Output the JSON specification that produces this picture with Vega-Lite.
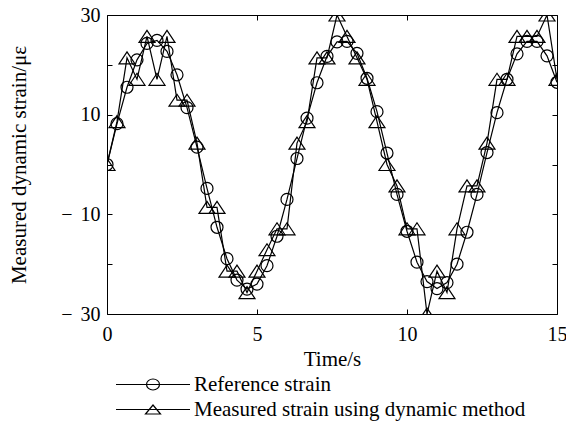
{
  "$schema": "https://vega.github.io/schema/vega-lite/v6.json",
  "width": 450,
  "height": 299,
  "autosize": {"type": "none"},
  "padding": {"left": 107, "top": 15, "right": 9, "bottom": 107},
  "background": "white",
  "config": {
    "font": "Liberation Serif",
    "view": {"stroke": null},
    "axis": {"grid": false, "domainColor": "black", "tickColor": "black", "labelColor": "black", "titleColor": "black", "titleFontWeight": "normal", "labelFlush": false, "labelOverlap": false, "domainWidth": 1, "tickWidth": 1}
  },
  "data": {
    "values": [
      {"t": 0, "v": 0, "s": "Reference strain"},
      {"t": 0.333, "v": 8.2, "s": "Reference strain"},
      {"t": 0.667, "v": 15.5, "s": "Reference strain"},
      {"t": 1.0, "v": 21.0, "s": "Reference strain"},
      {"t": 1.333, "v": 24.3, "s": "Reference strain"},
      {"t": 1.667, "v": 24.9, "s": "Reference strain"},
      {"t": 2.0, "v": 22.7, "s": "Reference strain"},
      {"t": 2.333, "v": 18.0, "s": "Reference strain"},
      {"t": 2.667, "v": 11.4, "s": "Reference strain"},
      {"t": 3.0, "v": 3.5, "s": "Reference strain"},
      {"t": 3.333, "v": -4.8, "s": "Reference strain"},
      {"t": 3.667, "v": -12.6, "s": "Reference strain"},
      {"t": 4.0, "v": -18.9, "s": "Reference strain"},
      {"t": 4.333, "v": -23.2, "s": "Reference strain"},
      {"t": 4.667, "v": -25.0, "s": "Reference strain"},
      {"t": 5.0, "v": -24.0, "s": "Reference strain"},
      {"t": 5.333, "v": -20.3, "s": "Reference strain"},
      {"t": 5.667, "v": -14.4, "s": "Reference strain"},
      {"t": 6.0, "v": -7.0, "s": "Reference strain"},
      {"t": 6.333, "v": 1.2, "s": "Reference strain"},
      {"t": 6.667, "v": 9.3, "s": "Reference strain"},
      {"t": 7.0, "v": 16.4, "s": "Reference strain"},
      {"t": 7.333, "v": 21.7, "s": "Reference strain"},
      {"t": 7.667, "v": 24.6, "s": "Reference strain"},
      {"t": 8.0, "v": 24.7, "s": "Reference strain"},
      {"t": 8.333, "v": 22.3, "s": "Reference strain"},
      {"t": 8.667, "v": 17.3, "s": "Reference strain"},
      {"t": 9.0, "v": 10.6, "s": "Reference strain"},
      {"t": 9.333, "v": 2.3, "s": "Reference strain"},
      {"t": 9.667, "v": -6.0, "s": "Reference strain"},
      {"t": 10.0, "v": -13.4, "s": "Reference strain"},
      {"t": 10.333, "v": -19.6, "s": "Reference strain"},
      {"t": 10.667, "v": -23.5, "s": "Reference strain"},
      {"t": 11.0, "v": -24.9, "s": "Reference strain"},
      {"t": 11.333, "v": -23.7, "s": "Reference strain"},
      {"t": 11.667, "v": -20.0, "s": "Reference strain"},
      {"t": 12.0, "v": -13.6, "s": "Reference strain"},
      {"t": 12.333, "v": -6.0, "s": "Reference strain"},
      {"t": 12.667, "v": 2.4, "s": "Reference strain"},
      {"t": 13.0, "v": 10.4, "s": "Reference strain"},
      {"t": 13.333, "v": 17.1, "s": "Reference strain"},
      {"t": 13.667, "v": 22.2, "s": "Reference strain"},
      {"t": 14.0, "v": 24.7, "s": "Reference strain"},
      {"t": 14.333, "v": 24.7, "s": "Reference strain"},
      {"t": 14.667, "v": 21.8, "s": "Reference strain"},
      {"t": 15.0, "v": 16.5, "s": "Reference strain"},
      {"t": 0, "v": 0, "s": "Measured strain using dynamic method"},
      {"t": 0.333, "v": 8.6, "s": "Measured strain using dynamic method"},
      {"t": 0.667, "v": 21.4, "s": "Measured strain using dynamic method"},
      {"t": 1.0, "v": 17.1, "s": "Measured strain using dynamic method"},
      {"t": 1.333, "v": 25.7, "s": "Measured strain using dynamic method"},
      {"t": 1.667, "v": 17.1, "s": "Measured strain using dynamic method"},
      {"t": 2.0, "v": 25.7, "s": "Measured strain using dynamic method"},
      {"t": 2.333, "v": 12.9, "s": "Measured strain using dynamic method"},
      {"t": 2.667, "v": 12.9, "s": "Measured strain using dynamic method"},
      {"t": 3.0, "v": 4.3, "s": "Measured strain using dynamic method"},
      {"t": 3.333, "v": -8.6, "s": "Measured strain using dynamic method"},
      {"t": 3.667, "v": -8.6, "s": "Measured strain using dynamic method"},
      {"t": 4.0, "v": -21.4, "s": "Measured strain using dynamic method"},
      {"t": 4.333, "v": -21.4, "s": "Measured strain using dynamic method"},
      {"t": 4.667, "v": -25.7, "s": "Measured strain using dynamic method"},
      {"t": 5.0, "v": -21.4, "s": "Measured strain using dynamic method"},
      {"t": 5.333, "v": -17.1, "s": "Measured strain using dynamic method"},
      {"t": 5.667, "v": -12.9, "s": "Measured strain using dynamic method"},
      {"t": 6.0, "v": -12.9, "s": "Measured strain using dynamic method"},
      {"t": 6.333, "v": 4.3, "s": "Measured strain using dynamic method"},
      {"t": 6.667, "v": 8.6, "s": "Measured strain using dynamic method"},
      {"t": 7.0, "v": 21.4, "s": "Measured strain using dynamic method"},
      {"t": 7.333, "v": 21.4, "s": "Measured strain using dynamic method"},
      {"t": 7.667, "v": 30.0, "s": "Measured strain using dynamic method"},
      {"t": 8.0, "v": 25.7, "s": "Measured strain using dynamic method"},
      {"t": 8.333, "v": 21.4, "s": "Measured strain using dynamic method"},
      {"t": 8.667, "v": 17.1, "s": "Measured strain using dynamic method"},
      {"t": 9.0, "v": 8.6, "s": "Measured strain using dynamic method"},
      {"t": 9.333, "v": 0, "s": "Measured strain using dynamic method"},
      {"t": 9.667, "v": -4.3, "s": "Measured strain using dynamic method"},
      {"t": 10.0, "v": -12.9, "s": "Measured strain using dynamic method"},
      {"t": 10.333, "v": -12.9, "s": "Measured strain using dynamic method"},
      {"t": 10.667, "v": -30.0, "s": "Measured strain using dynamic method"},
      {"t": 11.0, "v": -21.4, "s": "Measured strain using dynamic method"},
      {"t": 11.333, "v": -25.7, "s": "Measured strain using dynamic method"},
      {"t": 11.667, "v": -12.9, "s": "Measured strain using dynamic method"},
      {"t": 12.0, "v": -4.3, "s": "Measured strain using dynamic method"},
      {"t": 12.333, "v": -4.3, "s": "Measured strain using dynamic method"},
      {"t": 12.667, "v": 4.3, "s": "Measured strain using dynamic method"},
      {"t": 13.0, "v": 17.1, "s": "Measured strain using dynamic method"},
      {"t": 13.333, "v": 17.1, "s": "Measured strain using dynamic method"},
      {"t": 13.667, "v": 25.7, "s": "Measured strain using dynamic method"},
      {"t": 14.0, "v": 25.7, "s": "Measured strain using dynamic method"},
      {"t": 14.333, "v": 25.7, "s": "Measured strain using dynamic method"},
      {"t": 14.667, "v": 30.0, "s": "Measured strain using dynamic method"},
      {"t": 15.0, "v": 17.1, "s": "Measured strain using dynamic method"}
    ]
  },
  "layer": [
    {
      "mark": {"type": "line", "color": "black", "strokeWidth": 1.2, "clip": true},
      "encoding": {
        "x": {"field": "t", "type": "quantitative", "scale": {"domain": [0, 15], "nice": false, "zero": false},
          "axis": {"orient": "bottom", "values": [0, 5, 10, 15], "tickSize": -5, "labelPadding": 15, "labelFontSize": 20, "title": "Time/s", "titleFontSize": 21, "titlePadding": 4}},
        "y": {"field": "v", "type": "quantitative", "scale": {"domain": [-30, 30], "nice": false},
          "axis": {"orient": "left", "values": [-30, -20, -10, 0, 10, 20, 30], "tickSize": -5, "labelPadding": 12, "labelFontSize": 20,
            "labelExpr": "abs(datum.value) % 20 == 10 ? (datum.value < 0 ? '\u2212\u2009\u2009' + abs(datum.value) : '' + datum.value) : ''",
            "title": "Measured dynamic strain/\u03bc\u03b5", "titleFontSize": 21, "titlePadding": 31}},
        "detail": {"field": "s", "type": "nominal"}
      }
    },
    {
      "mark": {"type": "point", "filled": false, "color": "black", "strokeWidth": 1.2, "size": 4, "opacity": 1, "clip": true},
      "encoding": {
        "x": {"field": "t", "type": "quantitative",
          "axis": {"orient": "top", "values": [0, 5, 10, 15], "tickSize": -5, "labels": false, "title": null}},
        "y": {"field": "v", "type": "quantitative",
          "axis": {"orient": "right", "values": [-30, -20, -10, 0, 10, 20, 30], "tickSize": -5, "labels": false, "title": null}},
        "shape": {"field": "s", "type": "nominal",
          "scale": {"domain": ["Reference strain", "Measured strain using dynamic method"],
            "range": ["M-6,0A6,6,0,1,0,6,0A6,6,0,1,0,-6,0", "M0,-6L-8,6L8,6Z"]},
          "legend": null}
      }
    },
    {
      "mark": {"type": "point", "filled": false, "color": "black", "strokeWidth": 1.2, "size": 4, "opacity": 0, "clip": true},
      "encoding": {
        "x": {"field": "t", "type": "quantitative", "axis": null},
        "y": {"field": "v", "type": "quantitative", "axis": null},
        "shape": {"field": "s", "type": "nominal",
          "scale": {"domain": ["Reference strain", "Measured strain using dynamic method"],
            "range": ["M-37,0H37M-6.5,0A6.5,5.5,0,1,0,6.5,0A6.5,5.5,0,1,0,-6.5,0", "M-37,0H37M-7.5,4.5L0,-4.5L7.5,4.5Z"]},
          "legend": {"orient": "none", "legendX": 35.5, "legendY": 359, "title": null, "padding": 0, "offset": 0,
            "labelFontSize": 21, "labelColor": "black", "labelOffset": 30.5, "labelLimit": 500, "rowPadding": 3,
            "symbolStrokeWidth": 1.2, "symbolSize": 4, "symbolOpacity": 1,
            "symbolStrokeColor": "black", "symbolFillColor": "transparent"}}
      }
    }
  ],
  "resolve": {"axis": {"x": "independent", "y": "independent"}, "scale": {"shape": "independent"}}
}
